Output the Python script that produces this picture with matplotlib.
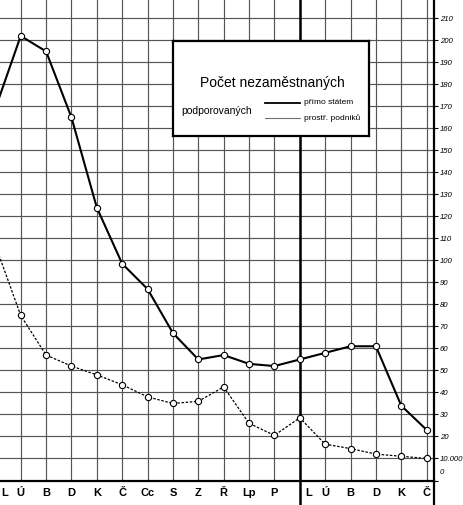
import matplotlib
matplotlib.use("Agg")
import matplotlib.pyplot as plt
import matplotlib.transforms as mtransforms

months = ["L", "Ú", "B", "D", "K", "Č", "Cc", "S", "Z", "Ř", "Lp", "P",
          "L", "Ú", "B", "D", "K", "Č"]
primo_statem = [169, 202, 195, 165, 124, 98.5, 87, 67, 55, 57, 53, 52,
                55, 58, 61, 61, 34, 23]
prostr_podniku = [107, 75, 57, 52, 48, 43.5, 38, 35, 36, 42.5, 26, 20.5,
                  28.5, 16.5, 14.5, 12, 11, 10]
y_ticks = list(range(0, 211, 10))
y_labels = ["0", "10.000"] + [str(v) for v in range(20, 211, 10)]

W, H = 464, 506
fig = plt.figure(figsize=(W / 100, H / 100), dpi=100)
fig.patch.set_facecolor("white")
plt.rcParams["font.family"] = ["Liberation Sans", "DejaVu Sans"]

ax_left, ax_right = 0, 434
ax_bottom_px, ax_top_px = 481.5, 0
ax = fig.add_axes([ax_left / W, (H - ax_bottom_px) / H,
                   (ax_right - ax_left) / W, (ax_bottom_px - ax_top_px) / H])
x = list(range(len(months)))
ax.set_xlim(0.184, 17.29)
ax.set_ylim(0, 218.8)

# grid
for xi in x:
    ax.axvline(xi, color="#555555", lw=0.85, zorder=1)
for yv in y_ticks:
    ax.axhline(yv, color="#555555", lw=0.85, zorder=1)

# thick divider between years, extending through label row
ax.axvline(12, ymin=-(H - ax_bottom_px) / ax_bottom_px, ymax=1, color="black",
           lw=1.8, clip_on=False, zorder=2)

ax.plot(x, primo_statem, color="black", lw=1.5, marker="o", markersize=4.5,
        markerfacecolor="white", markeredgecolor="black", markeredgewidth=0.8,
        zorder=4, clip_on=True)
ax.plot(x, prostr_podniku, color="black", lw=0.9, ls=(0, (2, 1.3)), marker="o",
        markersize=4.5, markerfacecolor="white", markeredgecolor="black",
        markeredgewidth=0.8, zorder=4, clip_on=True)

for s in ["top", "left"]:
    ax.spines[s].set_visible(False)
ax.spines["bottom"].set_linewidth(1.6)
ax.spines["right"].set_linewidth(1.6)

# extend right border down through label row
ax.plot([1, 1], [0, -(H - ax_bottom_px) / ax_bottom_px], transform=ax.transAxes,
        color="black", lw=1.6, clip_on=False)

ax.set_xticks([])
ax.yaxis.tick_right()
ax.set_yticks(y_ticks)
ax.set_yticklabels([])
ax.tick_params(axis="y", direction="out", length=3, width=0.8, color="black")

# right value labels
rtrans = mtransforms.blended_transform_factory(ax.transAxes, ax.transData)
for yv, lab in zip(y_ticks, y_labels):
    va = "bottom" if yv == 0 else "center"
    yy = yv + 2.5 if yv == 0 else yv
    ax.text(1.013, yy, lab, transform=rtrans, ha="left", va=va,
            fontsize=5.6, style="italic", clip_on=False)

# month labels
lab_y = -(493 - ax_bottom_px) / ax_bottom_px
trans = mtransforms.blended_transform_factory(ax.transData, ax.transAxes)
for xi, m in zip(x, months):
    xx = xi
    if xi == 0:
        xx = 0.35
    elif xi == 12:
        xx = 12.35
    ax.text(xx, lab_y, m, transform=trans, ha="center", va="center",
            fontsize=8, fontweight="bold", clip_on=False)

# legend box
lx0, lx1, ly0, ly1 = 173, 369, 42, 137
lax = fig.add_axes([lx0 / W, (H - ly1) / H, (lx1 - lx0) / W, (ly1 - ly0) / H])
lax.set_facecolor("white")
lax.set_xlim(0, 1)
lax.set_ylim(0, 1)
lax.set_xticks([])
lax.set_yticks([])
for s in lax.spines.values():
    s.set_linewidth(1.6)
lax.text(0.505, 0.565, "Počet nezaměstnaných", ha="center", va="center",
         fontsize=10)
lax.text(0.044, 0.274, "podporovaných", ha="left", va="center", fontsize=7.5)
lax.plot([0.469, 0.648], [0.347, 0.347], color="black", lw=1.3)
lax.text(0.67, 0.36, "přímo státem", ha="left", va="center", fontsize=6)
lax.plot([0.469, 0.648], [0.186, 0.186], color="black", lw=0.8, ls=(0, (1, 0.8)))
lax.text(0.67, 0.203, "prostř. podniků", ha="left", va="center", fontsize=6)

fig.savefig("out.png", dpi=100, facecolor="white")
